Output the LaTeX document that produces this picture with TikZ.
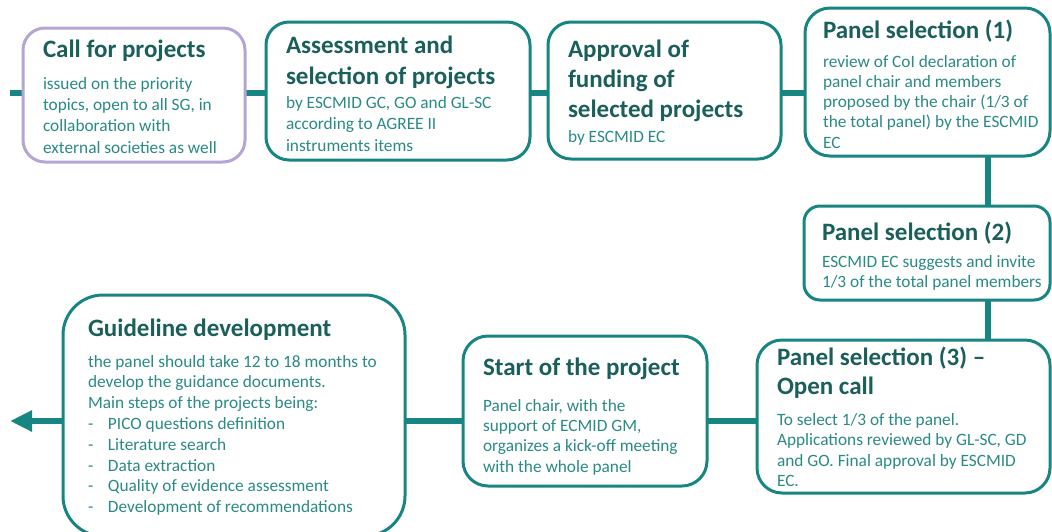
\documentclass[tikz,border=0pt]{standalone}
\usepackage{fontspec}
\setmainfont{Carlito}
\usetikzlibrary{arrows.meta,backgrounds}
\definecolor{tealline}{HTML}{178683}
\definecolor{titlecol}{HTML}{1B5F5B}
\definecolor{bodycol}{HTML}{2A8A84}
\definecolor{lilac}{HTML}{B5A5D2}
\tikzset{
  box/.style={draw=tealline, line width=3pt, fill=white, rounded corners=#1, inner sep=0pt, outer sep=0pt},
  ttl/.style={anchor=base west, inner sep=0pt, outer sep=0pt, align=left, text=titlecol, font=\fontsize{25}{30}\selectfont\bfseries},
  bdy/.style={anchor=base west, inner sep=0pt, outer sep=0pt, align=left, text=bodycol, font=\fontsize{17.3}{20.5}\selectfont},
  conn/.style={draw=tealline, line width=6pt},
}
\newcommand{\itm}{\makebox[20pt][l]{-}}
\begin{document}
\begin{tikzpicture}[x=1pt,y=-1pt]
\useasboundingbox (0,0) rectangle (1052,531);
% helper coordinates
\coordinate (row1) at (0,93);
\coordinate (row3) at (0,421);
\coordinate (vx) at (988,0);
\coordinate (start) at (10,93);
\coordinate (finish) at (10,421);
% boxes
\path
  (134,95)    node[box=22pt, draw=lilac, minimum width=222pt, minimum height=134pt] (b1) {}
  (398,91)    node[box=23pt, minimum width=264pt, minimum height=138pt] (b2) {}
  (664.5,90.5) node[box=23pt, minimum width=233pt, minimum height=137pt] (b3) {}
  (927.5,82)  node[box=25pt, minimum width=245pt, minimum height=148pt] (b4) {}
  (927,253)   node[box=16pt, minimum width=246pt, minimum height=94pt] (b5) {}
  (903.5,416.5) node[box=25pt, minimum width=293pt, minimum height=153pt] (b6) {}
  (585,411)   node[box=25pt, minimum width=244pt, minimum height=150pt] (b7) {}
  (234,415.5) node[box=40pt, minimum width=342pt, minimum height=241pt] (b8) {};
% connectors
\begin{pgfonlayer}{background}
\draw[conn] (start) -- (b1.west |- row1);
\draw[conn] (b1.east |- row1) -- (b2.west |- row1);
\draw[conn] (b2.east |- row1) -- (b3.west |- row1);
\draw[conn] (b3.east |- row1) -- (b4.west |- row1);
\draw[conn] (b4.south -| vx) -- (b5.north -| vx);
\draw[conn] (b5.south -| vx) -- (b6.north -| vx);
\draw[conn] (b6.west |- row3) -- (b7.east |- row3);
\draw[conn] (b7.west |- row3) -- (b8.east |- row3);
\draw[conn, -{Triangle[length=22pt, width=20pt]}] (b8.west |- row3) -- (finish);
\end{pgfonlayer}
% texts (anchor = baseline of the LAST line)
\node[ttl] (t1) at (43,57) {Call for projects};
\node[bdy, font=\fontsize{17.3}{21.3}\selectfont] (d1) at (43,153) {issued on the priority\\topics, open to all SG, in\\collaboration with\\external societies as well};
\node[ttl, font=\fontsize{25}{31}\selectfont\bfseries] (t2) at (286,84) {Assessment and\\selection of projects};
\node[bdy, font=\fontsize{17.3}{21.5}\selectfont] (d2) at (286,151) {by ESCMID GC, GO and GL-SC\\according to AGREE II\\instruments items};
\node[ttl] (t3) at (568,117) {Approval of\\funding of\\selected projects};
\node[bdy] (d3) at (568,142) {by ESCMID EC};
\node[ttl] (t4) at (823,38) {Panel selection (1)};
\node[bdy, font=\fontsize{17.3}{20.2}\selectfont] (d4) at (823,148) {review of CoI declaration of\\panel chair and members\\proposed by the chair (1/3 of\\the total panel) by the ESCMID\\EC};
\node[ttl] (t5) at (822,240) {Panel selection (2)};
\node[bdy, font=\fontsize{17.3}{20}\selectfont] (d5) at (822,287) {ESCMID EC suggests and invite\\1/3 of the total panel members};
\node[ttl, font=\fontsize{25}{29}\selectfont\bfseries] (t6) at (777,394) {Panel selection (3) –\\Open call};
\node[bdy] (d6) at (777,486.5) {To select 1/3 of the panel.\\Applications reviewed by GL-SC, GD\\and GO. Final approval by ESCMID\\EC.};
\node[ttl] (t7) at (483,375) {Start of the project};
\node[bdy, font=\fontsize{17.3}{20.3}\selectfont] (d7) at (483,472) {Panel chair, with the\\support of ECMID GM,\\organizes a kick-off meeting\\with the whole panel};
\node[ttl] (t8) at (88,336) {Guideline development};
\node[bdy, font=\fontsize{17.3}{20.8}\selectfont] (d8) at (88,512.6) {the panel should take 12 to 18 months to\\develop the guidance documents.\\Main steps of the projects being:\\\itm PICO questions definition\\\itm Literature search\\\itm Data extraction\\\itm Quality of evidence assessment\\\itm Development of recommendations};
\end{tikzpicture}
\end{document}
